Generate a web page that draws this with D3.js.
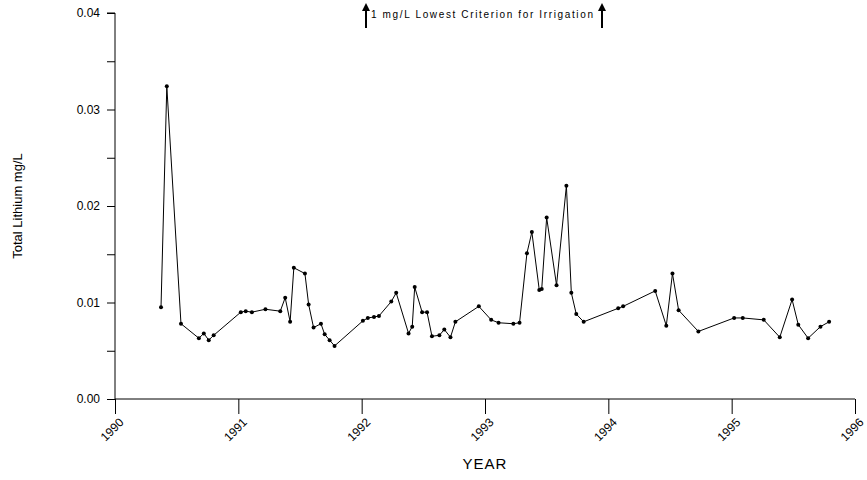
<!DOCTYPE html>
<html>
<head>
<meta charset="utf-8">
<script src="https://cdn.jsdelivr.net/npm/d3@7"></script>
<style>
  body { margin: 0; background: #fff; }
  text { font-family: "Liberation Sans", Arial, sans-serif; fill: #000; }
</style>
</head>
<body>
<div id="chart"></div>
<script>
// sample dates (decimal year) and total lithium (mg/L)
const years = [1990.373, 1990.42, 1990.535, 1990.68, 1990.72, 1990.76, 1990.80,
  1991.02, 1991.06, 1991.11, 1991.22, 1991.34, 1991.38, 1991.42, 1991.45, 1991.54,
  1991.57, 1991.61, 1991.67, 1991.70, 1991.74, 1991.78, 1992.01, 1992.05, 1992.10,
  1992.14, 1992.24, 1992.28, 1992.38, 1992.41, 1992.43, 1992.49, 1992.53, 1992.57,
  1992.63, 1992.67, 1992.72, 1992.76, 1992.95, 1993.05, 1993.11, 1993.23, 1993.28,
  1993.34, 1993.38, 1993.44, 1993.46, 1993.50, 1993.58, 1993.66, 1993.70, 1993.74,
  1993.80, 1994.08, 1994.12, 1994.38, 1994.47, 1994.52, 1994.57, 1994.73, 1995.02,
  1995.09, 1995.26, 1995.39, 1995.49, 1995.54, 1995.62, 1995.72, 1995.79];
const lithium = [0.0095, 0.0324, 0.0078, 0.0063, 0.0068, 0.0061, 0.0066,
  0.0090, 0.0091, 0.0090, 0.0093, 0.0091, 0.0105, 0.0080, 0.0136, 0.0130,
  0.0098, 0.0074, 0.0078, 0.0067, 0.0061, 0.0055, 0.0081, 0.0084, 0.0085,
  0.0086, 0.0101, 0.0110, 0.0068, 0.0075, 0.0116, 0.0090, 0.0090, 0.0065,
  0.0066, 0.0072, 0.0064, 0.0080, 0.0096, 0.0082, 0.0079, 0.0078, 0.0079,
  0.0151, 0.0173, 0.0113, 0.0114, 0.0188, 0.0118, 0.0221, 0.0110, 0.0088,
  0.0080, 0.0094, 0.0096, 0.0112, 0.0076, 0.0130, 0.0092, 0.0070, 0.0084,
  0.0084, 0.0082, 0.0064, 0.0103, 0.0077, 0.0063, 0.0075, 0.0080];
const xTicks = [1990, 1991, 1992, 1993, 1994, 1995, 1996];
const yTicks = [0, 0.005, 0.01, 0.015, 0.02, 0.025, 0.03, 0.035, 0.04];
const yLabels = [0, 0.01, 0.02, 0.03, 0.04];

const width = 867, height = 480;
const svg = d3.select('#chart').append('svg')
    .attr('width', width).attr('height', height);

const x = d3.scaleLinear().domain([1990, 1996]).range([115, 855]);
const y = d3.scaleLinear().domain([0, 0.04]).range([399, 13]);

// y axis
svg.append('g')
    .attr('transform', 'translate(115,0)')
    .call(d3.axisLeft(y).tickValues(yTicks).tickSize(8)
        .tickFormat(d => yLabels.some(v => Math.abs(v - d) < 1e-9) ? d3.format('.2f')(d) : ''))
    .call(g => g.select('.domain').attr('d', `M-8,${y(0.04)}H0V${y(0)}`))
    .call(g => g.selectAll('text').attr('font-size', 12).attr('dx', -4));

// x axis
const xa = svg.append('g')
    .attr('transform', 'translate(0,399)')
    .call(d3.axisBottom(x).tickValues(xTicks).tickSize(15).tickFormat(d3.format('d')))
    .call(g => g.select('.domain').attr('d', `M${x(1990)},0H${x(1996)}`));
xa.selectAll('text')
    .attr('font-size', 12)
    .attr('text-anchor', 'end')
    .attr('dx', 0).attr('dy', 0)
    .attr('y', 0)
    .attr('transform', 'translate(9,24) rotate(-45)');

svg.append('text').attr('x', 485).attr('y', 469)
    .attr('text-anchor', 'middle').attr('font-size', 15).attr('letter-spacing', 1).text('YEAR');
svg.append('text')
    .attr('transform', 'translate(22,206) rotate(-90)')
    .attr('text-anchor', 'middle').attr('font-size', 13).text('Total Lithium mg/L');

// annotation with arrows
const arrow = (ax) => {
  svg.append('line').attr('x1', ax).attr('x2', ax).attr('y1', 28).attr('y2', 9)
      .attr('stroke', '#000').attr('stroke-width', 2);
  svg.append('path').attr('d', `M${ax - 4},11L${ax},3L${ax + 4},11Z`).attr('fill', '#000');
};
arrow(366);
arrow(602);
svg.append('text').attr('x', 371).attr('y', 18).attr('font-size', 10)
    .attr('textLength', 222).attr('lengthAdjust', 'spacing')
    .text('1 mg/L Lowest Criterion for Irrigation');

// data line and markers
const pts = years.map((yr, i) => [yr, lithium[i]]);
svg.append('path').datum(pts)
    .attr('fill', 'none').attr('stroke', '#000').attr('stroke-width', 1)
    .attr('d', d3.line().x(d => x(d[0])).y(d => y(d[1])));
svg.append('g').selectAll('circle').data(pts).join('circle')
    .attr('cx', d => x(d[0])).attr('cy', d => y(d[1])).attr('r', 2).attr('fill', '#000');
</script>
</body>
</html>
